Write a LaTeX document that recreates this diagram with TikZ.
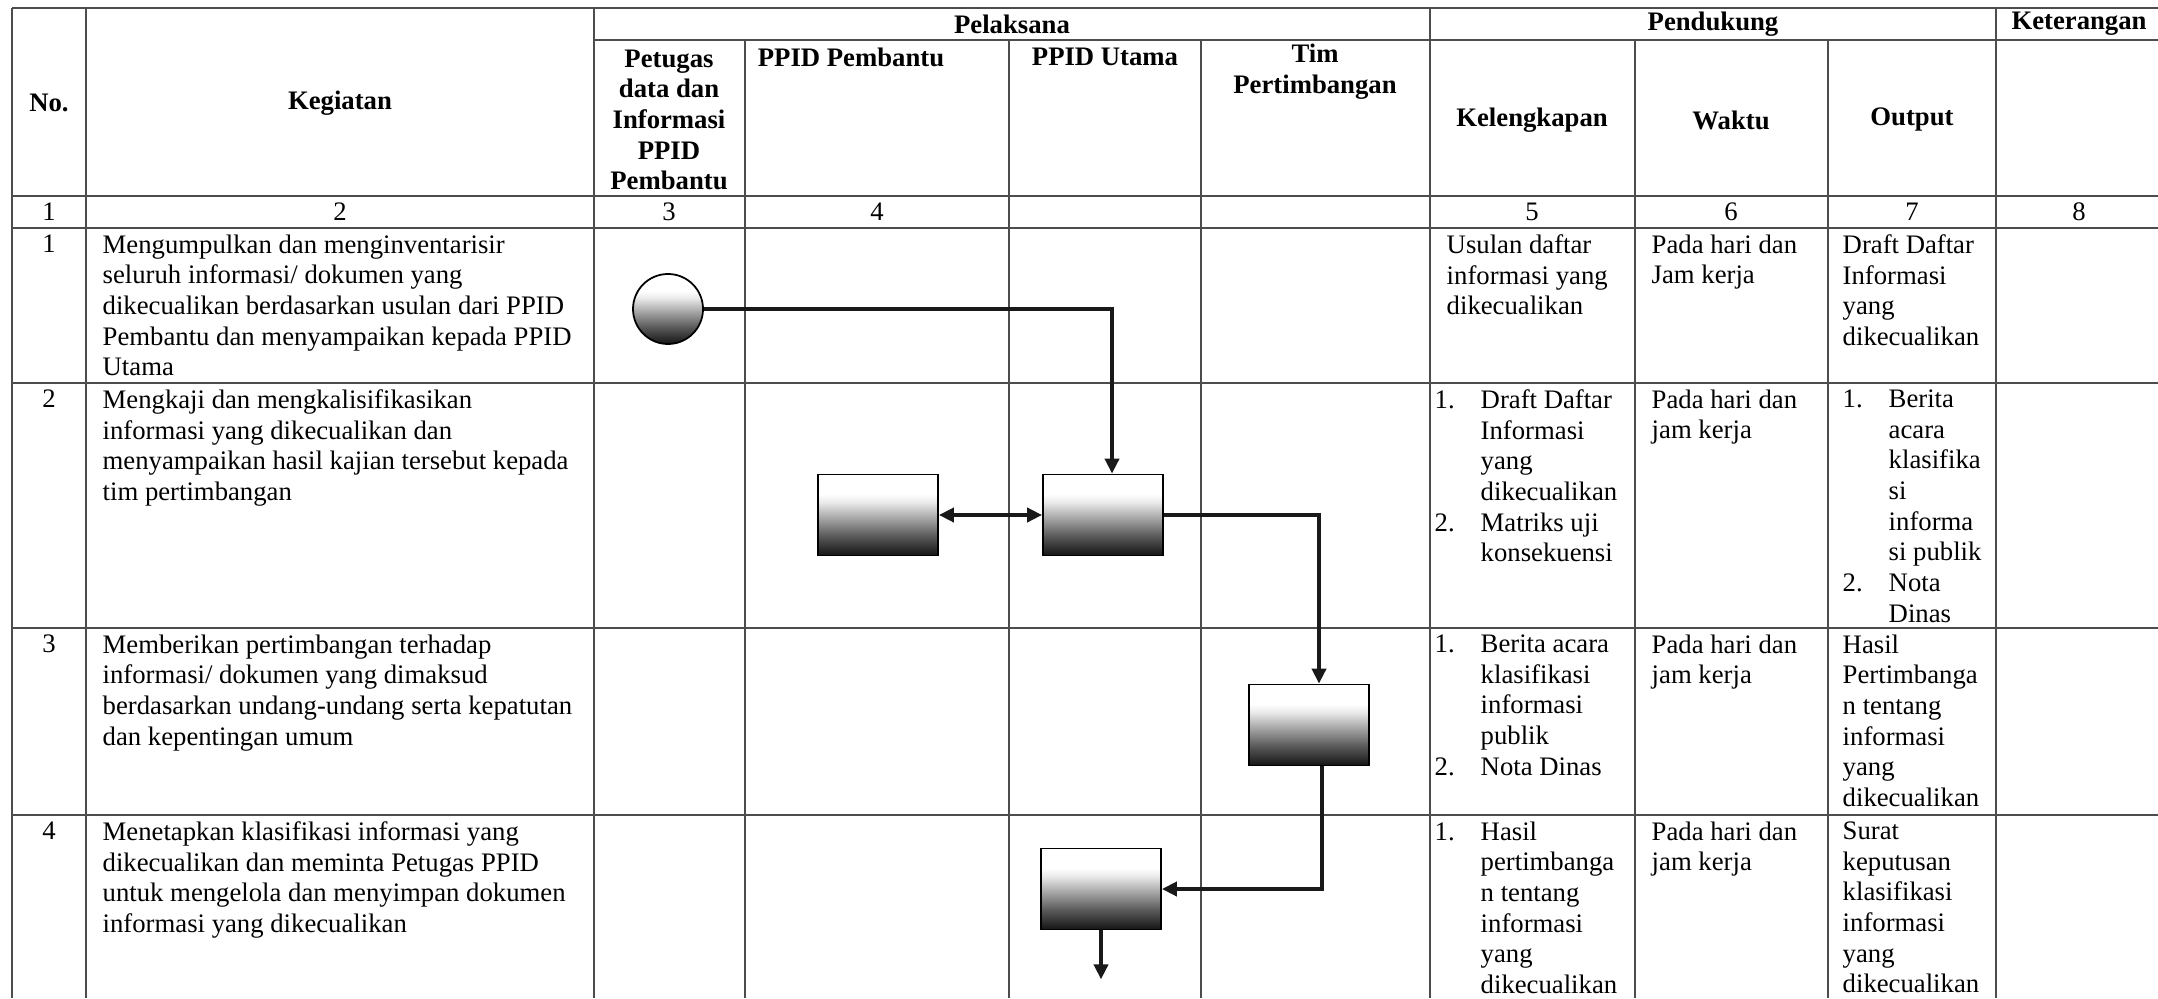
\documentclass[tikz,border=0pt]{standalone}
\usepackage{fontspec}
\setmainfont{Liberation Serif}
\usetikzlibrary{shapes,arrows,arrows.meta,fit,positioning}
\definecolor{garis}{gray}{0.3}
\pgfdeclareverticalshading{abu}{100bp}{color(0bp)=(black!92); color(25bp)=(black!92); color(37bp)=(black!65);
	color(50bp)=(black!30); color(58bp)=(black!8); color(63bp)=(white); color(100bp)=(white)}
\newcommand{\nomor}[1]{\makebox[4.6mm][l]{#1}}
\newcommand{\geser}{\hspace*{4.6mm}}

\begin{document}
\begin{tikzpicture}[x=0.1mm,y=-0.1mm,% one unit is one pixel of the scan, y runs downwards
			every node/.style={
				inner sep=0pt,		% text sits exactly at the given point
				font=\fontsize{7.6}{8.73}\selectfont
			},
			tabel/.style={draw=garis,line width=0.5pt},
			judul/.style={font=\fontsize{7.6}{8.73}\selectfont\bfseries,align=center},
			teks/.style={anchor=north west,align=left},
			kotak/.style={rectangle,draw=black,line width=0.5pt,minimum width=12mm,minimum height=8.1mm,shading=abu},
			bulat/.style={circle,draw=black,line width=0.5pt,minimum size=7mm,shading=abu},
			alur/.style={draw=black!90,line width=1.2pt,->,>={Triangle[length=1.5mm,width=1.4mm]}}
		]
		\useasboundingbox (0,0) rectangle (2158,998);
		% table lines
		\draw[tabel] (12,8) -- (2158,8) (594,40) -- (2158,40) (12,196) -- (2158,196)
			(12,228) -- (2158,228) (12,383) -- (2158,383) (12,628) -- (2158,628) (12,815) -- (2158,815);
		\draw[tabel] (12,8) -- (12,998) (86,8) -- (86,998) (594,8) -- (594,998)
			(745,40) -- (745,998) (1009,40) -- (1009,998) (1201,40) -- (1201,998)
			(1430,8) -- (1430,998) (1635,40) -- (1635,998) (1828,40) -- (1828,998) (1996,8) -- (1996,998);
		% header
		\node[judul](hNo) at (49,103) {No.};
		\node[judul](hKeg) at (340,103) {Kegiatan};
		\node[judul](hPel) at (1012,24) {Pelaksana};
		\node[judul](hPend) at (1713,24) {Pendukung};
		\node[judul](hKet) at (2079,24) {Keterangan};
		\node[judul](hPet) at (669,120) {Petugas\\data dan\\Informasi\\PPID\\Pembantu};
		\node[judul](hPPb) at (851,57) {PPID Pembantu};
		\node[judul](hPUt) at (1105,57) {PPID Utama};
		\node[judul](hTim) at (1315,72) {Tim\\Pertimbangan};
		\node[judul](hKel) at (1532,120) {Kelengkapan};
		\node[judul](hWak) at (1731,120) {Waktu};
		\node[judul](hOut) at (1912,120) {Output};
		% column numbers
		\node(k1) at (49,212) {1};
		\node(k2) at (340,212) {2};
		\node(k3) at (669,212) {3};
		\node(k4) at (877,212) {4};
		\node(k5) at (1532,212) {5};
		\node(k6) at (1731,212) {6};
		\node(k7) at (1912,212) {7};
		\node(k8) at (2079,212) {8};
		% row 1
		\node[teks,anchor=north](no1) at (49,234) {1};
		\node[teks](keg1) at (102,234) {Mengumpulkan dan menginventarisir\\seluruh informasi/ dokumen yang\\dikecualikan berdasarkan usulan dari PPID\\Pembantu dan menyampaikan kepada PPID\\Utama};
		\node[teks](kel1) at (1446,234) {Usulan daftar\\informasi yang\\dikecualikan};
		\node[teks](wak1) at (1651,234) {Pada hari dan\\Jam kerja};
		\node[teks](out1) at (1842,234) {Draft Daftar\\Informasi\\yang\\dikecualikan};
		% row 2
		\node[teks,anchor=north](no2) at (49,389) {2};
		\node[teks](keg2) at (102,389) {Mengkaji dan mengkalisifikasikan\\informasi yang dikecualikan dan\\menyampaikan hasil kajian tersebut kepada\\tim pertimbangan};
		\node[teks](kel2) at (1434,389) {\nomor{1.}Draft Daftar\\\geser Informasi\\\geser yang\\\geser dikecualikan\\\nomor{2.}Matriks uji\\\geser konsekuensi};
		\node[teks](wak2) at (1651,389) {Pada hari dan\\jam kerja};
		\node[teks](out2) at (1842,389) {\nomor{1.}Berita\\\geser acara\\\geser klasifika\\\geser si\\\geser informa\\\geser si publik\\\nomor{2.}Nota\\\geser Dinas};
		% row 3
		\node[teks,anchor=north](no3) at (49,634) {3};
		\node[teks](keg3) at (102,634) {Memberikan pertimbangan terhadap\\informasi/ dokumen yang dimaksud\\berdasarkan undang-undang serta kepatutan\\dan kepentingan umum};
		\node[teks](kel3) at (1434,634) {\nomor{1.}Berita acara\\\geser klasifikasi\\\geser informasi\\\geser publik\\\nomor{2.}Nota Dinas};
		\node[teks](wak3) at (1651,634) {Pada hari dan\\jam kerja};
		\node[teks](out3) at (1842,634) {Hasil\\Pertimbanga\\n tentang\\informasi\\yang\\dikecualikan};
		% row 4
		\node[teks,anchor=north](no4) at (49,821) {4};
		\node[teks](keg4) at (102,821) {Menetapkan klasifikasi informasi yang\\dikecualikan dan meminta Petugas PPID\\untuk mengelola dan menyimpan dokumen\\informasi yang dikecualikan};
		\node[teks](kel4) at (1434,821) {\nomor{1.}Hasil\\\geser pertimbanga\\\geser n tentang\\\geser informasi\\\geser yang\\\geser dikecualikan};
		\node[teks](wak4) at (1651,821) {Pada hari dan\\jam kerja};
		\node[teks](out4) at (1842,821) {Surat\\keputusan\\klasifikasi\\informasi\\yang\\dikecualikan};
		% flow
		\node[bulat](mulai) at (668,309) {};
		\node[kotak](pembantu) at (878,515) {};
		\node[kotak](utama) at (1103,515) {};
		\node[kotak](tim) at (1309,725) {};
		\node[kotak](tetap) at (1101,889) {};
		\coordinate[below=4.9mm of tetap](akhir);
		\draw[alur] (mulai) -| ([xshift=0.9mm]utama.north);
		\draw[alur,<->] (pembantu) -- (utama);
		\draw[alur] (utama) -| ([xshift=1mm]tim.north);
		\draw[alur] ([xshift=1.3mm]tim.south) |- (tetap);
		\draw[alur] (tetap) -- (akhir);
	\end{tikzpicture}
\end{document}
